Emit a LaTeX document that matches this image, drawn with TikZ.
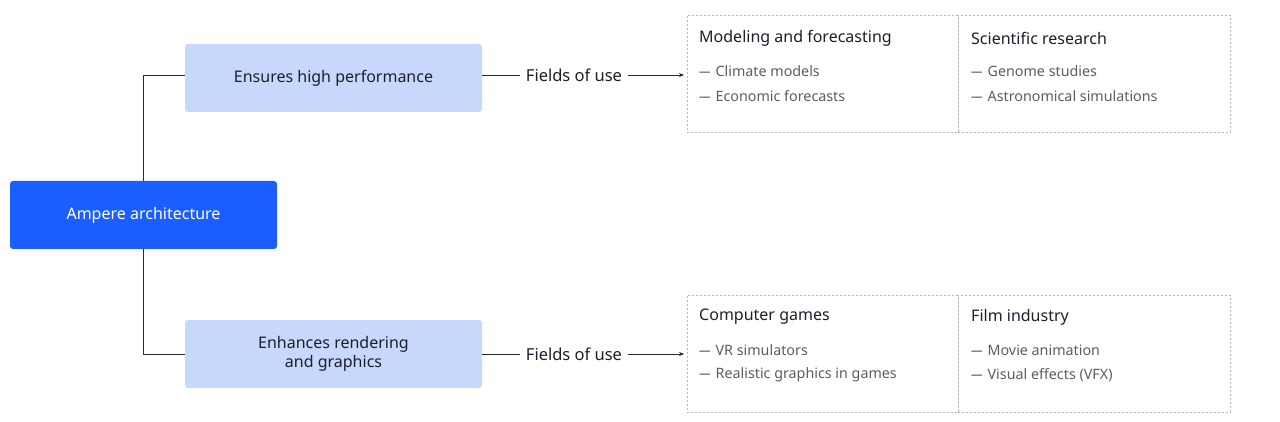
\documentclass[tikz,border=0pt]{standalone}
\usepackage{fontspec}
\setmainfont{Noto Sans}
\usetikzlibrary{arrows.meta}
\definecolor{mainblue}{HTML}{1A5EFF}
\definecolor{lightblue}{HTML}{C7D8FC}
\definecolor{darktext}{HTML}{1B1F2B}
\definecolor{greytext}{HTML}{5C5C60}
\definecolor{dashgrey}{HTML}{B8B8B8}
\definecolor{linegrey}{HTML}{2A2A2A}
\newcommand{\itemdash}{\scalebox{0.8}[1]{—}\hspace{5pt}}
\tikzset{
  rootbox/.style={rectangle, rounded corners=3pt, fill=mainblue, text=white, minimum width=267pt, minimum height=68pt, inner sep=0pt, font=\fontsize{16}{19}\selectfont},
  featbox/.style={rectangle, rounded corners=3pt, fill=lightblue, text=darktext, minimum width=297pt, minimum height=68pt, inner sep=0pt, align=center, font=\fontsize{16}{19.5}\selectfont},
  fieldlbl/.style={inner sep=0pt, text=darktext, font=\fontsize{16.5}{19}\selectfont},
  cellbox/.style={rectangle, draw=dashgrey, line width=0.9pt, dash pattern=on 2pt off 2pt, minimum height=117pt, inner sep=0pt},
  celltitle/.style={anchor=west, inner sep=0pt, text=darktext, font=\fontsize{16}{19}\selectfont},
  cellitem/.style={anchor=west, inner sep=0pt, text=greytext, font=\fontsize{14.3}{17}\selectfont},
  conn/.style={draw=linegrey, line width=0.9pt},
}
\begin{document}
\begin{tikzpicture}[x=1pt,y=-1pt]
\useasboundingbox (0,0) rectangle (1280,422);
% main nodes
\node[rootbox] (root) at (143.5,215) {Ampere architecture};
\node[featbox] (perf) at (333.5,78) {Ensures high performance};
\node[featbox] (rend) at (333.5,354) {Enhances rendering\\and graphics};
% fields of use labels
\node[fieldlbl] (f1) at (574,75) {Fields of use};
\node[fieldlbl] (f2) at (574,354) {Fields of use};
% connectors from root
\draw[conn] (root.north) |- (perf.west |- f1);
\draw[conn] (root.south) |- (rend.west);
% cells top
\node[cellbox, minimum width=271pt] (c1) at (822.5,73.5) {};
\node[cellbox, minimum width=272pt] (c2) at (1094,73.5) {};
% cells bottom
\node[cellbox, minimum width=271pt] (c3) at (822.5,353.5) {};
\node[cellbox, minimum width=272pt] (c4) at (1094,353.5) {};
% arrows
\coordinate (a1) at (684,75);
\coordinate (a2) at (684,354);
\draw[conn] (perf.east |- f1) -- ([xshift=-6pt]f1.west);
\draw[conn, -{Stealth[length=5pt,width=4pt]}] ([xshift=6pt]f1.east) -- (a1);
\draw[conn] (rend.east |- f2) -- ([xshift=-6pt]f2.west);
\draw[conn, -{Stealth[length=5pt,width=4pt]}] ([xshift=6pt]f2.east) -- (a2);
% texts top
\node[celltitle] (t1) at (699,38) {Modeling and forecasting};
\node[cellitem] (t1a) at (699,71) {\itemdash Climate models};
\node[cellitem] (t1b) at (699,96) {\itemdash Economic forecasts};
\node[celltitle] (t2) at (971,38) {Scientific research};
\node[cellitem] (t2a) at (971,71) {\itemdash Genome studies};
\node[cellitem] (t2b) at (971,96) {\itemdash Astronomical simulations};
% texts bottom
\node[celltitle] (t3) at (699,317) {Computer games};
\node[cellitem] (t3a) at (699,350) {\itemdash VR simulators};
\node[cellitem] (t3b) at (699,375) {\itemdash Realistic graphics in games};
\node[celltitle] (t4) at (971,317) {Film industry};
\node[cellitem] (t4a) at (971,350) {\itemdash Movie animation};
\node[cellitem] (t4b) at (971,375) {\itemdash Visual effects (VFX)};
\end{tikzpicture}
\end{document}
